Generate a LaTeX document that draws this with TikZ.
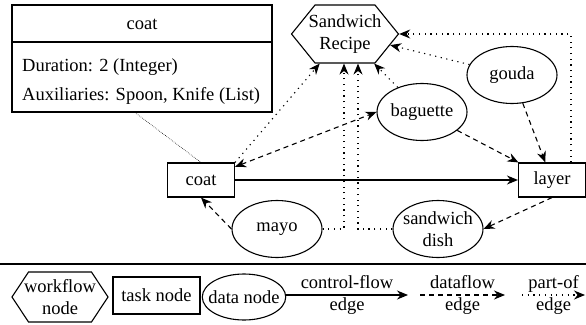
\documentclass[tikz,border=0pt]{standalone}
\usepackage{fontspec}
\setmainfont{Liberation Serif}
\usetikzlibrary{shapes.geometric,shapes.symbols,arrows.meta}
\begin{document}
\begin{tikzpicture}[x=1pt,y=-1pt,
  font=\fontsize{18.5pt}{22pt}\selectfont,
  tasknode/.style={draw, line width=1.1pt, minimum width=67, minimum height=34, inner sep=3pt},
  datanode/.style={draw, ellipse, line width=1.1pt, minimum width=90, minimum height=57, inner xsep=-3.5pt, inner ysep=0pt, align=center},
  wfnode/.style={draw, signal, signal to=east and west, line width=1.1pt, align=center, inner ysep=0pt},
  cf/.style={line width=1.1pt, -{Stealth[length=11pt,width=9pt]}},
  df/.style={cf, dash pattern=on 5pt off 4pt},
  dfboth/.style={line width=1.1pt, dash pattern=on 5pt off 4pt, {Stealth[length=11pt,width=9pt]}-{Stealth[length=11pt,width=9pt]}},
  po/.style={cf, dash pattern=on 1.2pt off 4.5pt},
  fine/.style={line width=0.6pt, dash pattern=on 0.6pt off 1.2pt}]
\useasboundingbox (0,0) rectangle (586,324);

% detail box of the task "coat"
\node[draw, line width=1.1pt, minimum width=260, minimum height=107] (detail) at (142,58.5) {};
\coordinate (sep) at (0,42);
\draw[line width=1.1pt] (detail.west |- sep) -- (detail.east |- sep);
\node (dhead) at (142,24) {coat};
\node[anchor=west, inner sep=0pt] (dur) at (22,67) {Duration: 2 (Integer)};
\node[anchor=west, inner sep=0pt] (aux) at (22,96) {Auxiliaries: Spoon, Knife (List)};

% main nodes
\node[wfnode, signal pointer angle=102, inner xsep=-6.5pt, minimum height=58] (recipe) at (345,34) {Sandwich\\Recipe};
\node[tasknode] (coat) at (201,180) {coat};
\node[tasknode] (layer) at (552,180) {layer};
\node[datanode] (baguette) at (422,112) {baguette};
\node[datanode] (gouda) at (512,75) {gouda};
\node[datanode] (mayo) at (277,229) {mayo};
\node[datanode] (dish) at (438,229) {sandwich\\dish};

% edges
\draw[fine] ([xshift=-7pt]detail.south) -- (coat.north);
\draw[po] (coat.north east) -- (recipe);
\draw[dfboth] (coat) -- (baguette.west);
\draw[cf] (coat) -- (layer);
\draw[df] (mayo.west) -- (coat.south);
\draw[po] (mayo.east) -| ([xshift=-1pt]recipe.south);
\draw[po] (dish.west) -| ([xshift=13pt]recipe.south);
\draw[po] (baguette) -- (recipe);
\draw[df] (baguette) -- (layer);
\draw[po] (gouda) -- (recipe);
\draw[df] (gouda) -- (layer);
\draw[po] ([xshift=19pt]layer.north) |- (recipe.east);
\draw[df] (layer.south) -- (dish.east);

% legend
\coordinate (sl) at (0,264);
\coordinate (sr) at (586,264);
\draw[line width=1.3pt] (sl) -- (sr);
\node[wfnode, signal pointer angle=113, inner xsep=-4.5pt, minimum height=50] (lwf) at (60,297) {workflow\\node};
\node[draw, line width=1.1pt, minimum width=87, minimum height=37] (ltask) at (156.5,295.5) {task node};
\node[draw, ellipse, line width=1.1pt, inner xsep=-6.2pt, inner ysep=0pt, minimum height=46] (ldata) at (244,297) {data node};
\coordinate (c1) at (286,295);
\coordinate (c2) at (408,295);
\draw[cf] (c1) -- node[align=center] {control-flow\\edge} (c2);
\coordinate (d1) at (420,295);
\coordinate (d2) at (505,295);
\draw[df] (d1) -- node[align=center] {dataflow\\edge} (d2);
\coordinate (p1) at (522,295);
\coordinate (p2) at (585,295);
\draw[po] (p1) -- node[align=center] {part-of\\edge} (p2);
\end{tikzpicture}
\end{document}
